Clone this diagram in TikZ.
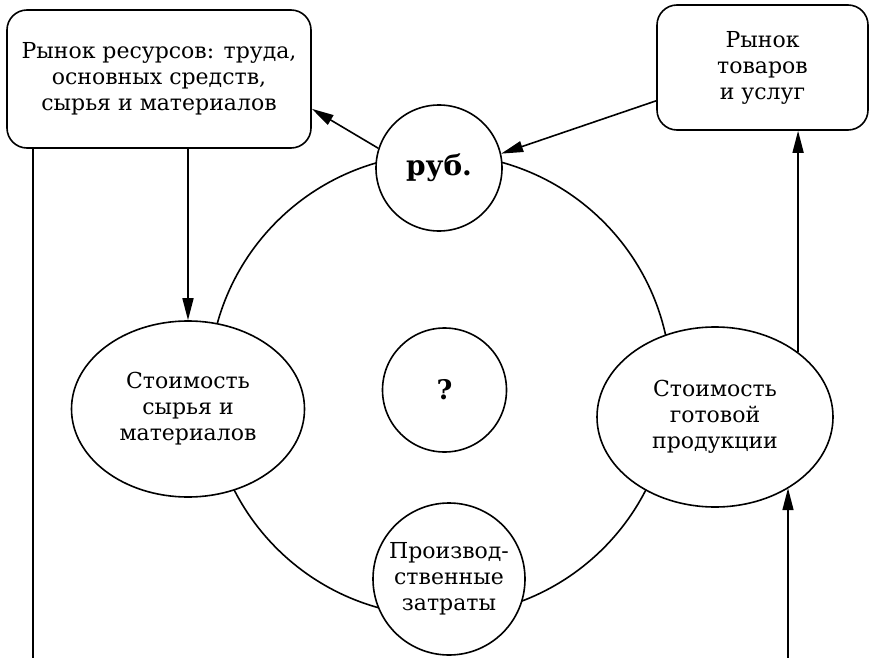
\documentclass[tikz,border=0pt]{standalone}
\usepackage{fontspec}
\setmainfont{DejaVu Serif}
\usetikzlibrary{shapes.geometric,arrows.meta,calc}
\begin{document}
\begin{tikzpicture}[x=1pt,y=-1pt,
  line width=1.6pt,
  every node/.style={align=center,font=\fontsize{22}{26}\selectfont},
  mbox/.style={draw,rounded corners=20pt,fill=white,inner sep=0pt},
  circ/.style={draw,circle,fill=white,inner sep=0pt},
  ell/.style={draw,ellipse,fill=white,inner sep=0pt},
  arr/.style={-{Triangle[length=22pt,width=11pt]}}]
\useasboundingbox (0,0) rectangle (872,658);
\node[circ, minimum size=462] (ring) at (440,385) {};
\node[mbox, minimum width=304, minimum height=138] (lbox) at (159,79) {Рынок ресурсов: труда,\\основных средств,\\сырья и материалов};
\node[mbox, minimum width=211, minimum height=125] (rbox) at (762.5,67.5) {Рынок\\товаров\\и услуг};
\node[circ, minimum size=126, font=\bfseries\fontsize{28}{30}\selectfont] (rub) at (439,168) {руб.};
\node[circ, minimum size=124, font=\bfseries\fontsize{27}{30}\selectfont] (q) at (444.5,390) {?};
\node[ell, minimum width=233, minimum height=176] (lell) at (188,409) {Стоимость\\сырья и\\материалов};
\node[ell, minimum width=236, minimum height=180] (rell) at (715,417) {Стоимость\\готовой\\продукции};
\node[circ, minimum size=152] (prod) at (449,579) {Производ-\\ственные\\затраты};
% connectors
\coordinate (lb) at (33,658);
\coordinate (rb) at (788,658);
\draw[arr] (rub.162) -- ($(lbox.south east)+(0,-40)$);
\draw[arr] ($(rbox.south west)+(0,-30)$) -- (rub.13);
\draw[arr] (lbox.south -| lell.north) -- (lell.north);
\draw (lb |- lbox.south) -- (lb);
\draw[arr] (rb) -- (rb |- rell.-44);
\draw[arr] (rell.38.4) -- (rell.38.4 |- rbox.south);
\end{tikzpicture}
\end{document}
